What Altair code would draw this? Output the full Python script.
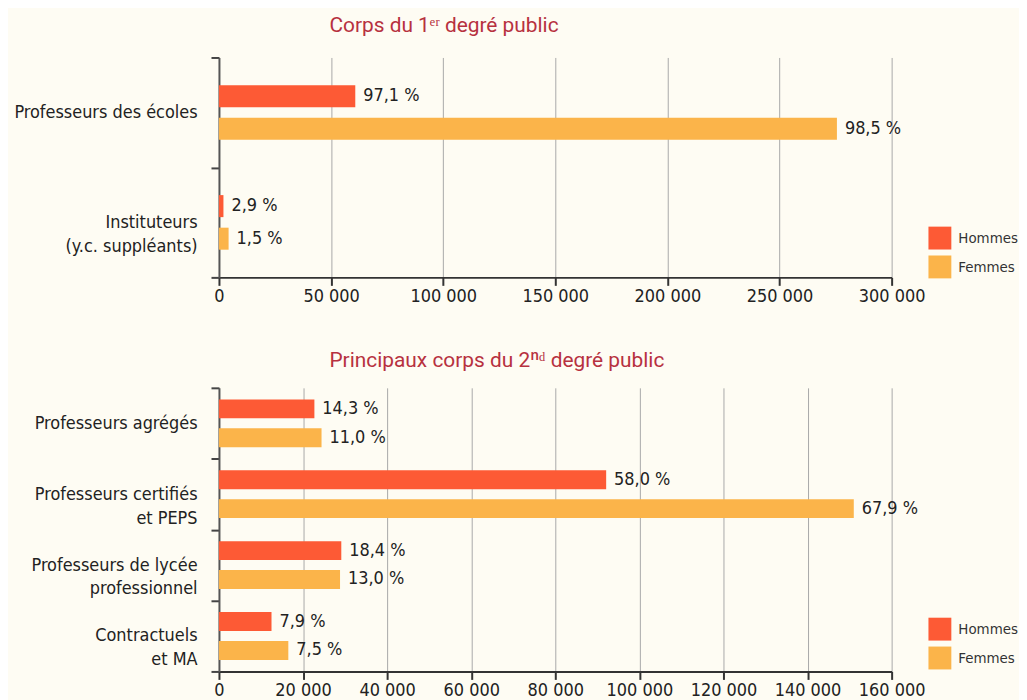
import altair as alt
import pandas as pd

# ---- Data ----
sexes = ["Hommes", "Femmes"]
colors = ["#fd5a35", "#fbb44a"]

corps1 = ["Professeurs des écoles", "Instituteurs|(y.c. suppléants)"]
hommes1 = [60800, 2000]
femmes1 = [275600, 4300]
pct_h1 = [97.1, 2.9]
pct_f1 = [98.5, 1.5]
ticks1 = [0, 50000, 100000, 150000, 200000, 250000, 300000]

corps2 = ["Professeurs agrégés", "Professeurs certifiés|et PEPS",
          "Professeurs de lycée|professionnel", "Contractuels|et MA"]
hommes2 = [22700, 92100, 29100, 12500]
femmes2 = [24400, 151000, 28800, 16500]
pct_h2 = [14.3, 58.0, 18.4, 7.9]
pct_f2 = [11.0, 67.9, 13.0, 7.5]
ticks2 = [0, 20000, 40000, 60000, 80000, 100000, 120000, 140000, 160000]

title1 = "Corps du 1ᵉʳ degré public"
title2 = "Principaux corps du 2ⁿᵈ degré public"

LABEL_FONT = "Liberation Sans Narrow, DejaVu Sans Condensed, Roboto Condensed, sans-serif"
TITLE_FONT = "Roboto"
BG = "#fefcf3"


def make_df(corps, h, f, ph, pf):
    rows = []
    for i, c in enumerate(corps):
        rows.append({"corps": c, "sexe": "Hommes", "effectif": h[i], "pct": ph[i]})
        rows.append({"corps": c, "sexe": "Femmes", "effectif": f[i], "pct": pf[i]})
    return pd.DataFrame(rows)


def panel(corps, h, f, ph, pf, ticks, height, title, title_offset,
          sub_inner, sub_outer, legend_y):
    df = make_df(corps, h, f, ph, pf)
    base = alt.Chart(df).transform_calculate(
        label="replace(format(datum.pct, '.1f'), '.', ',') + ' %'"
    ).encode(
        y=alt.Y("corps:N", sort=corps,
                scale=alt.Scale(paddingInner=0, paddingOuter=0),
                axis=alt.Axis(title=None, labelExpr="split(datum.label, '|')",
                              tickBand="extent", tickSize=8, tickWidth=2,
                              tickColor="#444", domainColor="#555", domainWidth=2,
                              labelFont=LABEL_FONT, labelFontSize=18,
                              labelColor="#222", labelPadding=14,
                              labelLineHeight=24, labelLimit=300,
                              minExtent=196, maxExtent=196)),
        yOffset=alt.YOffset("sexe:N", sort=sexes,
                            scale=alt.Scale(paddingInner=sub_inner, paddingOuter=sub_outer)),
        x=alt.X("effectif:Q",
                scale=alt.Scale(domain=[ticks[0], ticks[-1]], nice=False),
                axis=alt.Axis(title=None, values=ticks, labelOverlap=False,
                              labelFlush=False,
                              labelExpr="replace(format(datum.value, ','), regexp(',', 'g'), ' ')",
                              grid=True, gridColor="#a8a8a8", gridWidth=1,
                              tickSize=8, tickWidth=2, tickColor="#333",
                              domainColor="#333", domainWidth=2,
                              labelFont=LABEL_FONT, labelFontSize=18,
                              labelColor="#222", labelPadding=2)),
    )
    bars = base.mark_bar().encode(
        color=alt.Color("sexe:N", sort=sexes,
                        scale=alt.Scale(domain=sexes, range=colors),
                        legend=alt.Legend(title=None, orient="none",
                                          legendX=713, legendY=legend_y,
                                          padding=0,
                                          symbolType="square", symbolSize=529,
                                          symbolStrokeWidth=0, symbolOpacity=1,
                                          labelFont=LABEL_FONT, labelFontSize=15,
                                          labelColor="#333", labelOffset=7,
                                          rowPadding=6))
    )
    text = base.mark_text(align="left", baseline="middle", dx=8,
                          font=LABEL_FONT, fontSize=18, color="#222").encode(
        text="label:N"
    )
    return alt.layer(bars, text).properties(
        width=676, height=height,
        title=alt.TitleParams(title, anchor="start", frame="group", dx=111,
                              font=TITLE_FONT, fontSize=21, fontWeight="normal",
                              color="#b7313f", offset=title_offset)
    ).resolve_scale(yOffset="shared")


p1 = panel(corps1, hommes1, femmes1, pct_h1, pct_f1, ticks1, 221, title1, 13,
           0.324, 0.85, 170)
p2 = panel(corps2, hommes2, femmes2, pct_h2, pct_f2, ticks2, 285, title2, 8,
           0.345, 0.40, 231)

chart = alt.vconcat(p1, p2, spacing=45).resolve_scale(
    yOffset="independent", y="independent", x="independent"
).resolve_legend(color="independent").properties(
    background=BG,
    padding={"left": 5, "top": 5, "right": 0, "bottom": 0},
).configure_view(stroke=None)

chart.save("out.html", embed_options={"renderer": "svg", "actions": False})
